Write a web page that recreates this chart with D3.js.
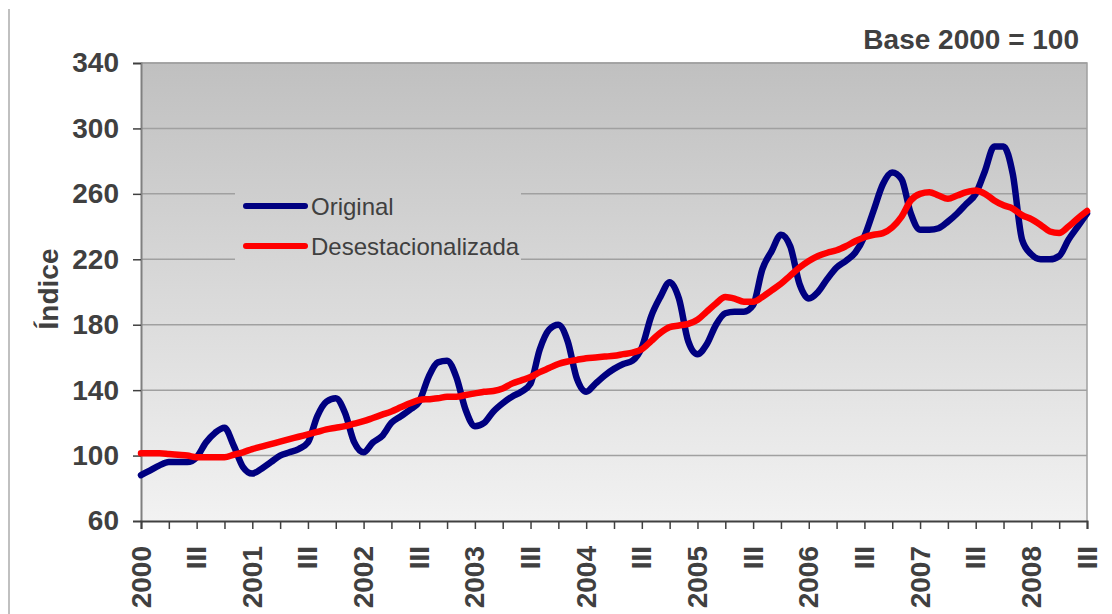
<!DOCTYPE html>
<html><head><meta charset="utf-8">
<script src="https://cdn.jsdelivr.net/npm/d3@7"></script>
<style>
html,body{margin:0;padding:0;background:#fff;}
svg{display:block;font-family:"Liberation Sans",Arial,sans-serif;}
</style></head>
<body>
<svg id="chart" width="1112" height="614"></svg>
<script>
// Monthly index, Jan 2000 .. Jul 2008 (103 months)
const original = [
 88, 91, 94, 96, 96, 96, 99,108,114,117,106, 93,
 89, 92, 96,100,102,104,108,124,133,135,126,108,
102,108,112,120,124,128,133,148,157,158,148,128,
118,120,127,132,136,139,144,165,177,180,170,147,
139,144,149,153,156,158,166,185,197,206,196,170,
162,168,180,187,188,188,192,214,225,235,228,205,
196,200,208,215,219,224,234,250,266,273,269,248,
238,238,239,243,248,254,260,274,289,289,272,232,
223,220,220,222,232,240,248];
const desestacionalizada = [
101.4,101.4,101.4,101,100.5,100,99,99,99,99,100.5,102,
104,105.5,107,108.5,110,111.5,113,114.5,116,117,118,119.5,
121,123,125,127,129.5,132,134,134.5,135,136,136,137,
138,139,139.5,141,144,146,148,151,153.5,156,157.5,158.5,
159.5,160,160.5,161,162,163,165,170,175,178.5,179.5,180.5,
183,188,193,197,196,194,194,197,201,205,210,215,
219,222,224,225.5,228,231,233.5,235,236,239.5,246,256,
260,261,259,257,259,261,262,260,256,253,251,247,
244.5,241,237,236,240,245,249.5];
const tickLabels = ["2000","III","2001","III","2002","III","2003","III","2004","III",
                    "2005","III","2006","III","2007","III","2008","III"];
const yTicks = [60,100,140,180,220,260,300,340];
const seriesNames = ["Original","Desestacionalizada"];
const seriesColors = ["#000080","#ff0000"];

const svg = d3.select("#chart");
const L=141, R=1087, T=63, B=521;
const x = d3.scaleLinear().domain([0, original.length-1]).range([L,R]);
const y = d3.scaleLinear().domain([60,340]).range([B,T]);

// chart-area left border
svg.append("line").attr("x1",9).attr("x2",9).attr("y1",9).attr("y2",614)
  .attr("stroke","#c0c0c0").attr("stroke-width",2);

const defs = svg.append("defs");
const g = defs.append("linearGradient").attr("id","bg")
  .attr("gradientUnits","userSpaceOnUse").attr("x1",0).attr("y1",T).attr("x2",0).attr("y2",B);
g.append("stop").attr("offset","0%").attr("stop-color","#c0c0c0");
g.append("stop").attr("offset","100%").attr("stop-color","#f2f2f2");

svg.append("rect").attr("x",L).attr("y",T).attr("width",R-L).attr("height",B-T)
  .attr("fill","url(#bg)");

// gridlines
svg.append("g").selectAll("line").data(yTicks.filter(d=>d>60)).join("line")
  .attr("x1",L).attr("x2",R).attr("y1",d=>y(d)).attr("y2",d=>y(d))
  .attr("stroke","#a0a0a0").attr("stroke-width",1.5);

// plot border top/right
svg.append("path").attr("d",`M${L},${T}H${R}V${B}`).attr("fill","none")
  .attr("stroke","#a0a0a0").attr("stroke-width",1.5);

// legend box (hides gridlines)
svg.append("rect").attr("x",235).attr("y",182).attr("width",286).attr("height",86)
  .attr("fill","url(#bg)");

// y axis
const yAxis = d3.axisLeft(y).tickValues(yTicks).tickSize(8).tickPadding(14);
const ya = svg.append("g").attr("transform",`translate(${L},0)`).call(yAxis);
ya.select(".domain").attr("stroke","#808080").attr("stroke-width",2);
ya.selectAll(".tick line").attr("stroke","#404040").attr("stroke-width",1.5);
ya.selectAll(".tick text").attr("font-size",28).attr("font-weight","bold")
  .attr("fill","#404040").attr("font-family","'Liberation Sans',Arial,sans-serif");

// x axis
const xTickVals = d3.range(0, original.length, 3);
const xAxis = d3.axisBottom(x).tickValues(xTickVals).tickSize(8).tickFormat("");
const xa = svg.append("g").attr("transform",`translate(0,${B})`).call(xAxis);
xa.select(".domain").attr("stroke","#404040").attr("stroke-width",2);
xa.selectAll(".tick line").attr("stroke","#404040").attr("stroke-width",1.5);

svg.append("g").selectAll("text").data(tickLabels).join("text")
  .attr("transform",(d,i)=>`translate(${x(i*6)+9.5},546) rotate(-90)`)
  .attr("text-anchor","end")
  .attr("font-size",28).attr("font-weight","bold").attr("fill","#404040")
  .text(d=>d);

// lines
const line = d3.line().x((d,i)=>x(i)).y(d=>y(d)).curve(d3.curveMonotoneX);
[original, desestacionalizada].forEach((s,k)=>{
  svg.append("path").datum(s).attr("d",line).attr("fill","none")
    .attr("stroke",seriesColors[k]).attr("stroke-width",6.5)
    .attr("stroke-linejoin","round").attr("stroke-linecap","round");
});

// legend
const lg = svg.append("g");
seriesNames.forEach((n,k)=>{
  const yy = 206 + k*40;
  lg.append("line").attr("x1",246).attr("x2",305).attr("y1",yy).attr("y2",yy)
    .attr("stroke",seriesColors[k]).attr("stroke-width",6).attr("stroke-linecap","round");
  lg.append("text").attr("x",311).attr("y",yy+9).attr("font-size",24)
    .attr("fill","#404040").text(n);
});

// titles
svg.append("text").attr("transform","translate(58,289) rotate(-90)")
  .attr("text-anchor","middle").attr("font-size",28).attr("font-weight","bold")
  .attr("fill","#404040").text("Índice");
svg.append("text").attr("x",1079).attr("y",49).attr("text-anchor","end")
  .attr("font-size",28).attr("font-weight","bold").attr("fill","#404040")
  .text("Base 2000 = 100");
</script>
</body></html>
